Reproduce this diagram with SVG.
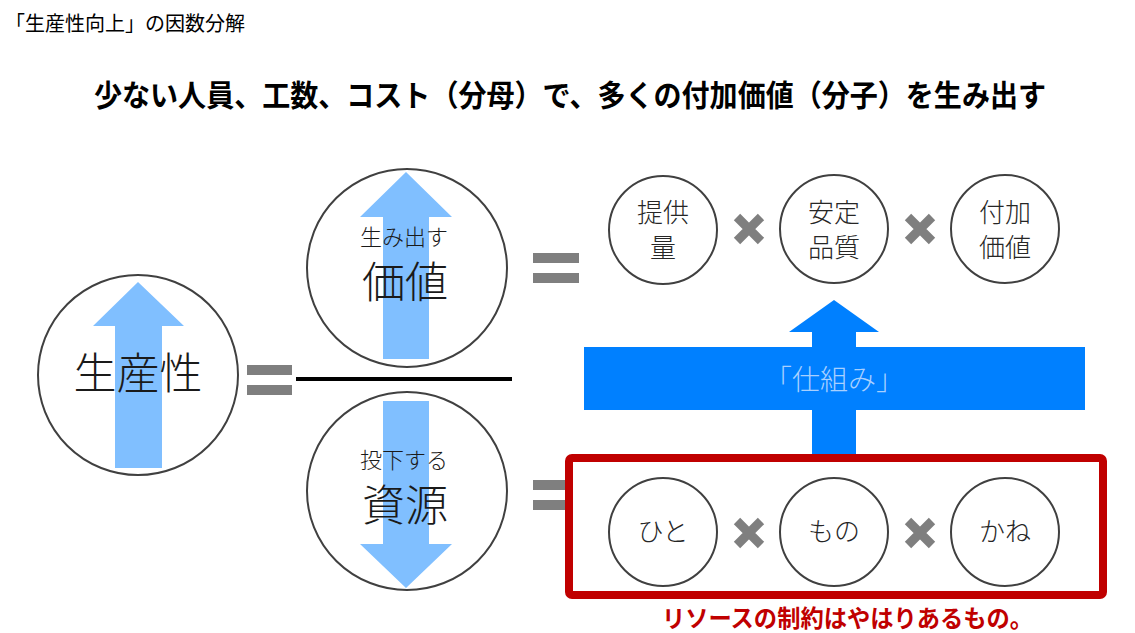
<svg xmlns="http://www.w3.org/2000/svg" width="1135" height="633" viewBox="0 0 1135 633">
<style>
text{font-family:"Noto Sans CJK JP","Noto Sans CJK SC",sans-serif}
.ring{fill:#fff;stroke:#404040;stroke-width:2}
.lt{fill:#80BFFF}
.eq{fill:#7F7F7F}
.x{stroke:#7F7F7F;stroke-width:9;stroke-linecap:butt}
.big{font-size:43px;font-weight:300;fill:#1a1a1a;text-anchor:middle}
.sm{font-size:22px;font-weight:300;fill:#1a1a1a;text-anchor:middle}
.nd{font-size:26px;font-weight:300;fill:#262626;text-anchor:middle}
</style>
<rect width="1135" height="633" fill="#fff"/>
<text x="5" y="31" font-size="20" fill="#000">「生産性向上」の因数分解</text>
<text x="94" y="106" font-size="30" font-weight="bold" fill="#000" textLength="952" lengthAdjust="spacingAndGlyphs">少ない人員、工数、コスト（分母）で、多くの付加価値（分子）を生み出す</text>

<g id="productivity">
<ellipse class="ring" cx="138" cy="375" rx="100" ry="100"/>
<polygon class="lt" points="138,282 184,326 162,326 162,468 115,468 115,326 93,326"/>
<text class="big" x="138" y="389">生産性</text>
</g>

<g id="value">
<ellipse class="ring" cx="407" cy="268" rx="100" ry="99"/>
<polygon class="lt" points="406,172 452,217 429,217 429,359 383,359 383,217 360,217"/>
<text class="sm" x="404" y="245">生み出す</text>
<text class="big" x="405" y="298">価値</text>
</g>

<g id="resource">
<ellipse class="ring" cx="407" cy="491" rx="100" ry="99"/>
<polygon class="lt" points="383,401 429,401 429,544 452,544 406,588 360,544 383,544"/>
<text class="sm" x="404" y="468">投下する</text>
<text class="big" x="405" y="521">資源</text>
</g>

<g id="equals">
<rect class="eq" x="247" y="365" width="45" height="10"/>
<rect class="eq" x="247" y="385" width="45" height="10"/>
<rect class="eq" x="533" y="253" width="46" height="10"/>
<rect class="eq" x="533" y="273" width="46" height="10"/>
<rect class="eq" x="533" y="480" width="40" height="10"/>
<rect class="eq" x="533" y="500" width="40" height="10"/>
<line x1="296" y1="379" x2="512" y2="379" stroke="#000" stroke-width="4"/>
</g>

<g id="mechanism">
<polygon fill="#0080FF" points="834,300 879,332 856,332 856,347 1085,347 1085,410 856,410 856,456 812,456 812,410 584,410 584,347 812,347 812,332 789,332"/>
<text x="834" y="390" font-size="28" font-weight="300" fill="#A8D0FF" text-anchor="middle">「仕組み」</text>
</g>

<g id="constraint-box">
<rect x="569" y="458" width="534" height="137" rx="3" fill="none" stroke="#C00000" stroke-width="8"/>
<text x="662" y="627" font-size="24" font-weight="bold" fill="#C00000" textLength="371" lengthAdjust="spacingAndGlyphs">リソースの制約はやはりあるもの。</text>
</g>

<g id="supply">
<circle class="ring" cx="663" cy="230" r="54"/>
<text class="nd" x="663" y="222">提供</text>
<text class="nd" x="663" y="257">量</text>
</g>
<g id="quality">
<circle class="ring" cx="834" cy="229" r="54"/>
<text class="nd" x="834" y="222">安定</text>
<text class="nd" x="834" y="257">品質</text>
</g>
<g id="added-value">
<circle class="ring" cx="1005" cy="229" r="54"/>
<text class="nd" x="1005" y="222">付加</text>
<text class="nd" x="1005" y="257">価値</text>
</g>
<g id="people">
<circle class="ring" cx="663" cy="532" r="54"/>
<text class="nd" x="663" y="541">ひと</text>
</g>
<g id="things">
<circle class="ring" cx="834" cy="532" r="54"/>
<text class="nd" x="834" y="541">もの</text>
</g>
<g id="money">
<circle class="ring" cx="1005" cy="532" r="54"/>
<text class="nd" x="1005" y="541">かね</text>
</g>

<g id="times">
<path class="x" d="M737,217 L761,241 M761,217 L737,241"/>
<path class="x" d="M908,217 L932,241 M932,217 L908,241"/>
<path class="x" d="M737,521 L761,545 M761,521 L737,545"/>
<path class="x" d="M908,521 L932,545 M932,521 L908,545"/>
</g>
</svg>
